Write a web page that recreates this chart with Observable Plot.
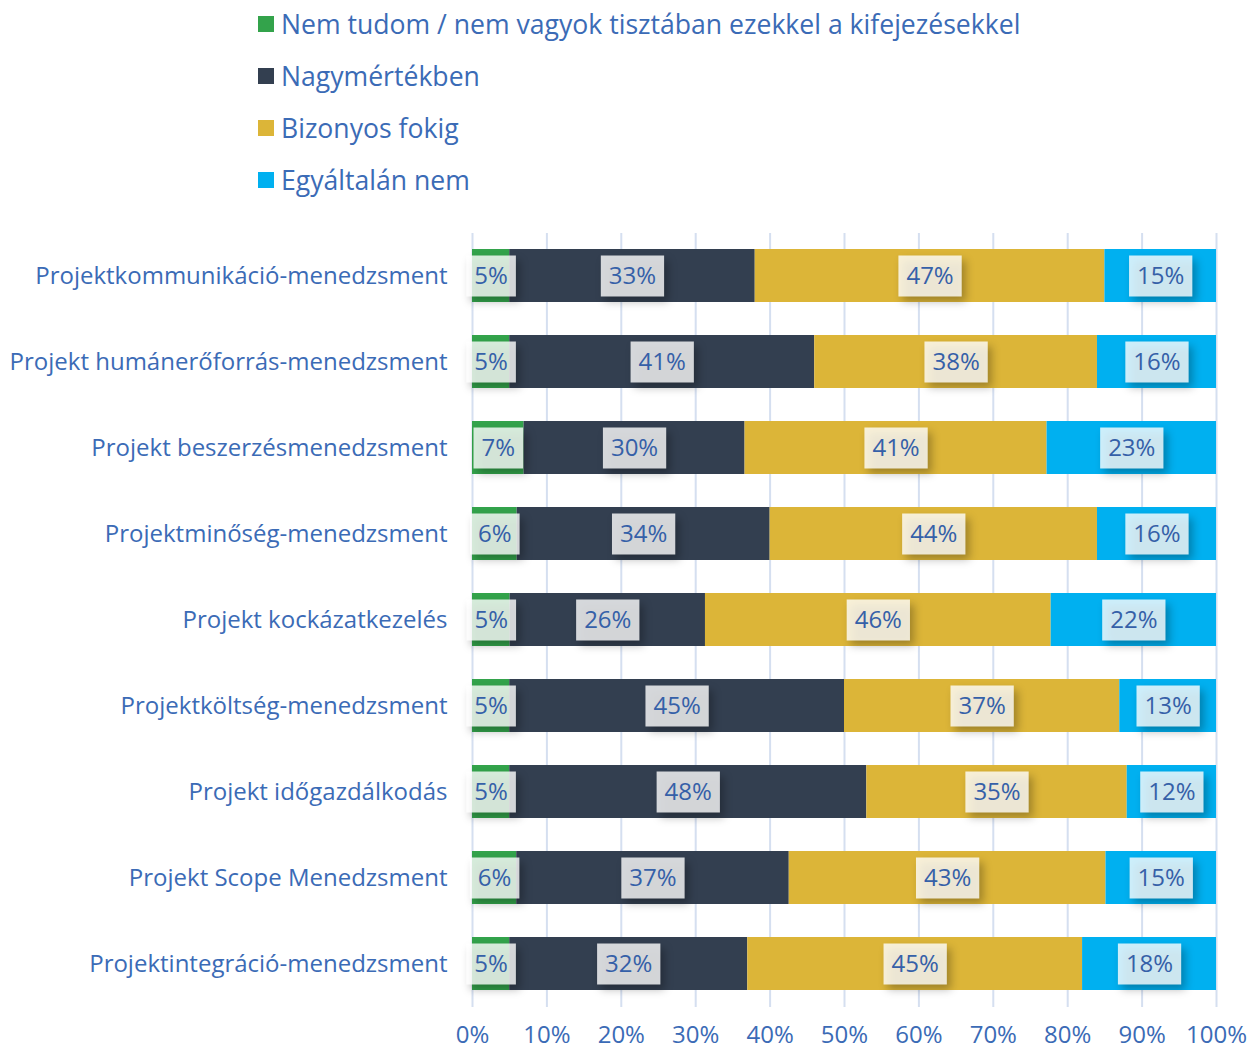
<!DOCTYPE html>
<html><head><meta charset="utf-8">
<script src="https://cdn.jsdelivr.net/npm/d3@7"></script>
<script src="https://cdn.jsdelivr.net/npm/@observablehq/plot@0.6"></script>
<style>
body{margin:0;background:#fff;font-family:"Open Sans",sans-serif;}
#legend{height:200px;position:relative;}
.item{position:absolute;left:258px;height:30px;display:flex;align-items:center;font-size:26.6px;color:#3b6bb6;white-space:nowrap;}
.sw{width:16px;height:16px;margin-right:7px;flex:none;}
</style></head><body>
<div id="legend"></div><div id="chart"></div>
<script>
const categories = [
  "Projektkommunikáció-menedzsment",
  "Projekt humánerőforrás-menedzsment",
  "Projekt beszerzésmenedzsment",
  "Projektminőség-menedzsment",
  "Projekt kockázatkezelés",
  "Projektköltség-menedzsment",
  "Projekt időgazdálkodás",
  "Projekt Scope Menedzsment",
  "Projektintegráció-menedzsment"
];
const series = ["Nem tudom / nem vagyok tisztában ezekkel a kifejezésekkel", "Nagymértékben", "Bizonyos fokig", "Egyáltalán nem"];
const colors = ["#33a34b", "#333f50", "#dcb538", "#00b0f0"];
const nemTudom      = [5, 5, 7, 6, 5, 5, 5, 6, 5];
const nagymertekben = [33, 41, 30, 34, 26, 45, 48, 37, 32];
const bizonyosFokig = [47, 38, 41, 44, 46, 37, 35, 43, 45];
const egyaltalanNem = [15, 16, 23, 16, 22, 13, 12, 15, 18];
const xTicks = [0, 10, 20, 30, 40, 50, 60, 70, 80, 90, 100];

const valuesBySeries = [nemTudom, nagymertekben, bizonyosFokig, egyaltalanNem];
const data = [];
categories.forEach((c, i) => series.forEach((s, j) => data.push({cat: c, series: s, value: valuesBySeries[j][i]})));

const textColor = "#3b6bb6";
const labelColor = "#3560a8";

// legend
const legend = document.getElementById("legend");
series.forEach((s, j) => {
  const d = document.createElement("div");
  d.className = "item";
  d.style.top = (9 + j * 52) + "px";
  d.innerHTML = `<span class="sw" style="background:${colors[j]}"></span><span>${s}</span>`;
  legend.appendChild(d);
});

const ns = "http://www.w3.org/2000/svg";
const measureCtx = document.createElement("canvas").getContext("2d");
measureCtx.font = "24px 'Open Sans'";

function labelBoxes(index, scales, values, dimensions, context, next) {
  const g = next(index, scales, values, dimensions, context);
  const first = g.firstChild;
  for (const i of index) {
    const txt = data[i].value + "%";
    const w = measureCtx.measureText(txt).width + 16;
    const r = document.createElementNS(ns, "rect");
    r.setAttribute("x", values.x[i] - w / 2);
    r.setAttribute("y", values.y[i] - 20.5);
    r.setAttribute("width", w);
    r.setAttribute("height", 41);
    r.setAttribute("fill", "#ffffff");
    r.setAttribute("fill-opacity", "0.8");
    r.setAttribute("style", "filter: drop-shadow(4px 5px 4px rgba(0,0,0,0.35))");
    g.insertBefore(r, first);
  }
  return g;
}

const chart = Plot.plot({
  width: 1256,
  height: 850,
  marginLeft: 472,
  marginRight: 40,
  marginTop: 33,
  marginBottom: 43,
  style: {fontFamily: "Open Sans, sans-serif", fontSize: "24px", color: textColor, background: "white"},
  x: {domain: [0, 1], ticks: xTicks.map(d => d / 100), tickFormat: d => Math.round(d * 100) + "%", label: null},
  y: {domain: categories, paddingInner: 0.38, paddingOuter: 0.19, label: null},
  color: {domain: series, range: colors},
  marks: [
    Plot.gridX(xTicks.map(d => d / 100), {stroke: "#d5dff0", strokeWidth: 2, strokeOpacity: 1}),
    Plot.barX(data, Plot.stackX({x: "value", y: "cat", fill: "series", offset: "normalize", order: series})),
    Plot.text(data, Plot.stackX({x: "value", y: "cat", z: "series", offset: "normalize", order: series,
      text: d => d.value + "%", fill: labelColor, fontSize: 24, render: labelBoxes})),
    Plot.axisX(xTicks.map(d => d / 100), {tickSize: 0, tickPadding: 18, tickFormat: d => Math.round(d * 100) + "%", fontSize: 24, label: null}),
    Plot.axisY({tickSize: 0, tickPadding: 25, fontSize: 24, label: null})
  ]
});
document.getElementById("chart").appendChild(chart);
</script>
</body></html>
